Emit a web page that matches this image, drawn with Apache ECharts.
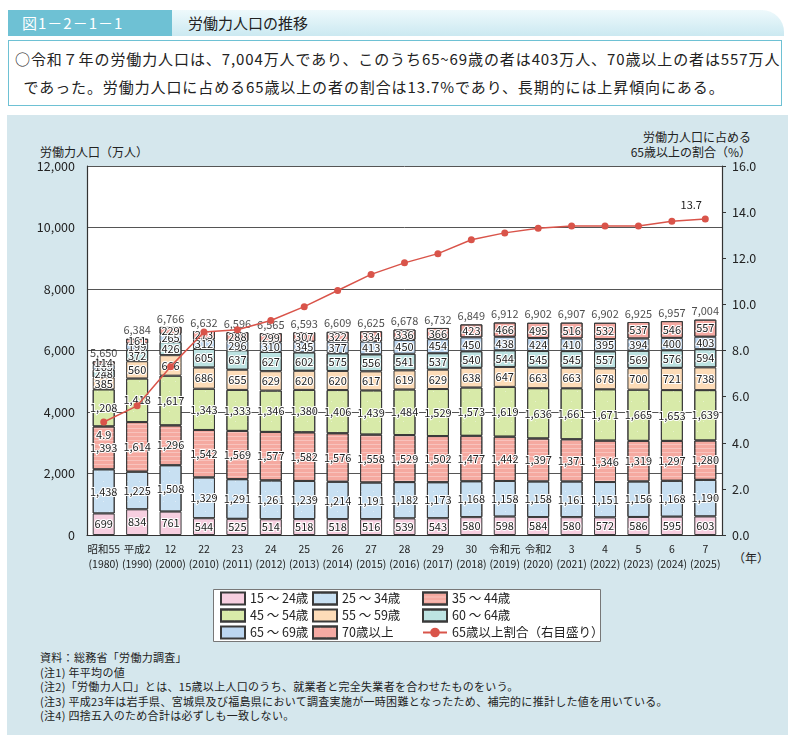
<!DOCTYPE html>
<html>
<head>
<meta charset="utf-8">
<script src="https://cdn.jsdelivr.net/npm/echarts@6/dist/echarts.min.js"></script>
<style>
  body { margin: 0; background: #fff; font-family: "Noto Sans CJK JP", sans-serif; }
  #page { position: relative; width: 795px; height: 749px; overflow: hidden; }
  .abs { position: absolute; }
  #tbox { left: 8px; top: 10px; width: 164px; height: 26px; background: #6ec1d4; color: #fff;
          font-size: 15px; line-height: 26px; padding-left: 14px; box-sizing: border-box; letter-spacing: 1px; }
  #tbar { left: 172px; top: 10px; width: 612px; height: 26px; border-top-right-radius: 22px;
          background: linear-gradient(#eef9fc, #cbe9f1); font-size: 15px; line-height: 26px; padding-left: 16px; box-sizing: border-box; color: #222; }
  #summary { left: 8px; top: 40px; width: 774px; height: 66px; border: 1.5px solid #6ec1d4; box-sizing: border-box;
             font-size: 15px; line-height: 28px; padding: 4px 0 0 6px; color: #222; letter-spacing: 0.9px; white-space: nowrap; }
  #panel { left: 7px; top: 115px; width: 781px; height: 620px; background: #d5e7ed; }
  #chart { left: 0; top: 0; width: 795px; height: 749px; }
  .lbl { font-size: 12px; color: #222; }
  #notes { left: 40px; top: 650px; font-size: 11px; line-height: 14.5px; color: #222; letter-spacing: 0.3px; }
</style>
</head>
<body>
<div id="page">
  <div id="tbox" class="abs">図1－2－1－1</div>
  <div id="tbar" class="abs">労働力人口の推移</div>
  <div id="summary" class="abs">○令和７年の労働力人口は、7,004万人であり、このうち65~69歳の者は403万人、70歳以上の者は557万人<br>&nbsp;&nbsp;であった。労働力人口に占める65歳以上の者の割合は13.7%であり、長期的には上昇傾向にある。</div>
  <div id="panel" class="abs"></div>
  <div class="abs lbl" style="left:40px;top:143px;">労働力人口（万人）</div>
  <div class="abs lbl" style="right:44px;top:129px;text-align:right;line-height:15px;">労働力人口に占める<br>65歳以上の割合（%）</div>
  <div class="abs lbl" style="left:733px;top:549px;">（年）</div>
  <div id="notes" class="abs">資料：総務省「労働力調査」<br>(注1) 年平均の値<br>(注2)「労働力人口」とは、15歳以上人口のうち、就業者と完全失業者を合わせたものをいう。<br>(注3) 平成23年は岩手県、宮城県及び福島県において調査実施が一時困難となったため、補完的に推計した値を用いている。<br>(注4) 四捨五入のため合計は必ずしも一致しない。</div>
  <div id="chart" class="abs"></div>
</div>
<script>
var years = ['昭和55\n(1980)', '平成2\n(1990)', '12\n(2000)', '22\n(2010)', '23\n(2011)', '24\n(2012)', '25\n(2013)',
  '26\n(2014)', '27\n(2015)', '28\n(2016)', '29\n(2017)', '30\n(2018)', '令和元\n(2019)', '令和2\n(2020)',
  '3\n(2021)', '4\n(2022)', '5\n(2023)', '6\n(2024)', '7\n(2025)'];

var age15to24 = [699, 834, 761, 544, 525, 514, 518, 518, 516, 539, 543, 580, 598, 584, 580, 572, 586, 595, 603];
var age25to34 = [1438, 1225, 1508, 1329, 1291, 1261, 1239, 1214, 1191, 1182, 1173, 1168, 1158, 1158, 1161, 1151, 1156, 1168, 1190];
var age35to44 = [1393, 1614, 1296, 1542, 1569, 1577, 1582, 1576, 1558, 1529, 1502, 1477, 1442, 1397, 1371, 1346, 1319, 1297, 1280];
var age45to54 = [1208, 1418, 1617, 1343, 1333, 1346, 1380, 1406, 1439, 1484, 1529, 1573, 1619, 1636, 1661, 1671, 1665, 1653, 1639];
var age55to59 = [385, 560, 666, 686, 655, 629, 620, 620, 617, 619, 629, 638, 647, 663, 663, 678, 700, 721, 738];
var age60to64 = [248, 372, 426, 605, 637, 627, 602, 575, 556, 541, 537, 540, 544, 545, 545, 557, 569, 576, 594];
var age65to69 = [165, 199, 265, 312, 296, 310, 345, 377, 413, 450, 454, 450, 438, 424, 410, 395, 394, 400, 403];
var age70plus = [114, 161, 229, 273, 288, 299, 307, 322, 334, 336, 366, 423, 466, 495, 516, 532, 537, 546, 557];
var totals = [5650, 6384, 6766, 6632, 6596, 6565, 6593, 6609, 6625, 6678, 6732, 6849, 6912, 6902, 6907, 6902, 6925, 6957, 7004];
var ratio65 = [4.9, 5.6, 7.3, 8.8, 8.9, 9.3, 9.9, 10.6, 11.3, 11.8, 12.2, 12.8, 13.1, 13.3, 13.4, 13.4, 13.4, 13.6, 13.7];

var leftTicks = [0, 2000, 4000, 6000, 8000, 10000, 12000];
var rightTicks = [0, 2, 4, 6, 8, 10, 12, 14, 16];

var FONT = '"Noto Sans CJK JP", sans-serif';

// soft dot / stripe textures like the printed figure
var dots = { symbol: 'circle', symbolSize: 0.35, dashArrayX: [[3, 9], [0, 6, 3, 3]], dashArrayY: [3, 7], color: 'rgba(255,255,255,0.55)' };
var stripes = { symbol: 'rect', symbolSize: 1, dashArrayX: [1, 0], dashArrayY: [1, 3], color: 'rgba(255,255,255,0.3)' };

function fmt(v) { return v.toLocaleString('en-US'); }

function barSeries(name, data, color, decal) {
  var style = { color: color, borderColor: '#3a3a3a', borderWidth: 1 };
  if (decal) style.decal = decal;
  return {
    name: name, type: 'bar', stack: 'pop', data: data, barWidth: 22,
    itemStyle: style,
    label: {
      show: true, position: 'inside', fontSize: 11, fontFamily: FONT, color: '#222',
      textBorderColor: '#fff', textBorderWidth: 2,
      formatter: function (p) { return fmt(p.value); }
    }
  };
}

var chart = echarts.init(document.getElementById('chart'));

var ratioData = ratio65.map(function (v, i) {
  if (i === 0) return { value: v, label: { show: true, position: 'bottom', distance: 4 } };
  if (i === ratio65.length - 1) return { value: v, label: { show: true, position: 'top', offset: [-14, 0] } };
  return v;
});

var legendCommon = {
  orient: 'vertical', itemWidth: 24, itemHeight: 12, itemGap: 0, padding: 0,
  textStyle: { fontSize: 12.5, fontFamily: FONT, color: '#222', lineHeight: 17 }
};
function li(name) { return { name: name, icon: 'rect' }; }

chart.setOption({
  backgroundColor: 'transparent',
  animation: false,
  textStyle: { fontFamily: FONT },
  grid: { left: 87, right: 73, top: 166, bottom: 214, backgroundColor: '#fff', show: true, borderWidth: 0 },
  graphic: [{
    type: 'rect', left: 213, top: 589, shape: { width: 387, height: 52 },
    style: { fill: '#fff', stroke: '#777', lineWidth: 1 }, z: -1
  }],
  legend: [
    Object.assign({ left: 220, top: 590, data: [li('15 ～ 24歳'), li('45 ～ 54歳'), li('65 ～ 69歳')] }, legendCommon),
    Object.assign({ left: 312, top: 590, data: [li('25 ～ 34歳'), li('55 ～ 59歳'), li('70歳以上')] }, legendCommon),
    Object.assign({ left: 422, top: 590, data: [li('35 ～ 44歳'), li('60 ～ 64歳'), '65歳以上割合（右目盛り）'] }, legendCommon)
  ],
  xAxis: {
    type: 'category', data: years,
    axisLine: { lineStyle: { color: '#333', width: 1.2 } },
    axisTick: { inside: true, length: 4, lineStyle: { color: '#333' } },
    axisLabel: { fontSize: 10.5, color: '#222', lineHeight: 15, margin: 7, interval: 0 }
  },
  yAxis: [{
    type: 'value', min: leftTicks[0], max: leftTicks[leftTicks.length - 1], interval: 2000,
    axisLine: { show: true, lineStyle: { color: '#333', width: 1.2 } },
    axisTick: { show: false },
    splitLine: { lineStyle: { color: '#555', width: 1 } },
    axisLabel: { fontSize: 12.5, color: '#222', margin: 12, formatter: function (v) { return fmt(v); } }
  }, {
    type: 'value', min: rightTicks[0], max: rightTicks[rightTicks.length - 1], interval: 2,
    axisLine: { show: true, lineStyle: { color: '#333', width: 1.2 } },
    axisTick: { show: true, length: 4, lineStyle: { color: '#333' } },
    splitLine: { show: false },
    axisLabel: { fontSize: 12.5, color: '#222', margin: 10, formatter: function (v) { return v.toFixed(1); } }
  }],
  series: [
    barSeries('15 ～ 24歳', age15to24, '#f7cfe0'),
    barSeries('25 ～ 34歳', age25to34, '#c8e0f2', dots),
    barSeries('35 ～ 44歳', age35to44, '#f5a9a0', stripes),
    barSeries('45 ～ 54歳', age45to54, '#d8eaa9', dots),
    barSeries('55 ～ 59歳', age55to59, '#fddcb8'),
    barSeries('60 ～ 64歳', age60to64, '#bde3e2', dots),
    barSeries('65 ～ 69歳', age65to69, '#bcd6f0'),
    barSeries('70歳以上', age70plus, '#f5aaa3', dots),
    {
      name: 'total', type: 'scatter', data: totals, symbolSize: 0, silent: true,
      label: { show: true, position: 'top', distance: 3, fontSize: 11, color: '#222', formatter: function (p) { return fmt(p.value); } }
    },
    {
      name: '65歳以上割合（右目盛り）', type: 'line', yAxisIndex: 1, data: ratioData, z: 5,
      symbol: 'circle', symbolSize: 7,
      lineStyle: { color: '#d9544a', width: 1.5 }, itemStyle: { color: '#d9544a' },
      label: { show: false, fontSize: 11, color: '#222', textBorderColor: '#fff', textBorderWidth: 2 }
    }
  ]
});
</script>
</body>
</html>
